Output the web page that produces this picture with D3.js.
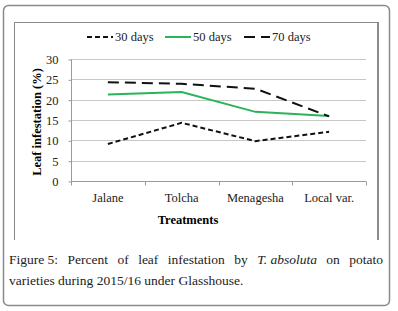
<!DOCTYPE html>
<html>
<head>
<meta charset="utf-8">
<script src="https://cdn.jsdelivr.net/npm/d3@7"></script>
<style>
  body { margin: 0; background: #fff; }
  svg { display: block; }
</style>
</head>
<body>
<svg id="chart" width="398" height="311"></svg>
<script>
const categories = ["Jalane", "Tolcha", "Menagesha", "Local var."];
const days30 = [9.1, 14.3, 9.8, 12.1];
const days50 = [21.3, 21.9, 17.0, 16.0];
const days70 = [24.3, 23.9, 22.7, 15.9];
const yTicks = [0, 5, 10, 15, 20, 25, 30];
const seriesNames = ["30 days", "50 days", "70 days"];

const svg = d3.select("#chart");
const serif = "'Liberation Serif', 'Times New Roman', serif";

// outer rounded frame
svg.append("rect")
    .attr("x", 3.5).attr("y", 5.5)
    .attr("width", 386).attr("height", 300)
    .attr("rx", 5)
    .attr("fill", "#fff")
    .attr("stroke", "#8a8a8a")
    .attr("stroke-width", 1.5);

// inner chart frame
svg.append("line").attr("x1", 14.5).attr("x2", 14.5).attr("y1", 22).attr("y2", 240)
    .attr("stroke", "#8a8a8a").attr("stroke-width", 1);
svg.append("line").attr("x1", 14).attr("x2", 378).attr("y1", 22.5).attr("y2", 22.5)
    .attr("stroke", "#8a8a8a").attr("stroke-width", 1);
svg.append("line").attr("x1", 378).attr("x2", 378).attr("y1", 22).attr("y2", 240)
    .attr("stroke", "#8a8a8a").attr("stroke-width", 2);

const x = d3.scaleBand().domain(categories).range([71, 366]);
const y = d3.scaleLinear().domain([0, 30]).range([181, 59]);

// gridlines
svg.append("g")
    .selectAll("line")
    .data(yTicks.slice(1))
    .join("line")
    .attr("x1", 71).attr("x2", 366)
    .attr("y1", d => Math.round(y(d)) + 0.5)
    .attr("y2", d => Math.round(y(d)) + 0.5)
    .attr("stroke", "#c8c8c8");

// y axis
const yAxis = svg.append("g")
    .attr("transform", "translate(71.5,0.5)")
    .call(d3.axisLeft(y).tickValues(yTicks).tickSize(3).tickPadding(10));
yAxis.select(".domain").attr("stroke", "#9a9a9a").attr("d", `M0,${y(0)}V${y(30)}`);
yAxis.selectAll(".tick line").attr("stroke", "#9a9a9a");
yAxis.selectAll("text").attr("font-family", serif).attr("font-size", 12.5).attr("fill", "#222");

// x axis
const xAxis = svg.append("g")
    .attr("transform", `translate(0,${Math.round(y(0)) + 0.5})`)
    .call(d3.axisBottom(x).tickSize(0).tickPadding(12));
xAxis.select(".domain").attr("stroke", "#9a9a9a").attr("d", "M71,0H366");
xAxis.selectAll("text").attr("font-family", serif).attr("font-size", 12.5).attr("fill", "#222");
xAxis.selectAll(".sep")
    .data(categories.map(c => x(c)).concat([366]))
    .join("line")
    .attr("class", "sep")
    .attr("x1", d => Math.round(d) + 0.5).attr("x2", d => Math.round(d) + 0.5)
    .attr("y1", 0).attr("y2", 4)
    .attr("stroke", "#9a9a9a");

// axis titles
svg.append("text")
    .attr("x", 188).attr("y", 224)
    .attr("text-anchor", "middle")
    .attr("font-family", serif).attr("font-weight", "bold").attr("font-size", 12.5)
    .text("Treatments");
svg.append("text")
    .attr("transform", "translate(41,122) rotate(-90)")
    .attr("text-anchor", "middle")
    .attr("font-family", serif).attr("font-weight", "bold").attr("font-size", 12.5)
    .text("Leaf infestation (%)");

// series
const series = [
    {name: seriesNames[0], values: days30, color: "#111", dash: "5,3"},
    {name: seriesNames[1], values: days50, color: "#2bb35a", dash: null},
    {name: seriesNames[2], values: days70, color: "#111", dash: "11,6"}
];

const line = d3.line()
    .x((d, i) => x(categories[i]) + x.bandwidth() / 2)
    .y(d => y(d));

svg.append("g")
    .selectAll("path")
    .data(series)
    .join("path")
    .attr("d", d => line(d.values))
    .attr("fill", "none")
    .attr("stroke", d => d.color)
    .attr("stroke-width", 2)
    .attr("stroke-dasharray", d => d.dash);

// legend
const legendX = [87, 165, 244];
const legend = svg.append("g")
    .selectAll("g")
    .data(series)
    .join("g")
    .attr("transform", (d, i) => `translate(${legendX[i]},37)`);
legend.append("line")
    .attr("x1", 0).attr("x2", 26)
    .attr("stroke", d => d.color)
    .attr("stroke-width", 2)
    .attr("stroke-dasharray", d => d.dash);
legend.append("text")
    .attr("x", 28).attr("y", 4)
    .attr("font-family", serif).attr("font-size", 12.5).attr("fill", "#222")
    .text(d => d.name);

// caption, first line justified word by word
const capWords = [
    {t: "Figure 5:", i: false}, {t: "Percent", i: false}, {t: "of", i: false},
    {t: "leaf", i: false}, {t: "infestation", i: false}, {t: "by", i: false},
    {t: "T. absoluta", i: true}, {t: "on", i: false}, {t: "potato", i: false}
];
const capLeft = 9, capRight = 383;
const words = svg.append("g")
    .selectAll("text")
    .data(capWords)
    .join("text")
    .attr("y", 264)
    .attr("font-family", serif).attr("font-size", 13.5).attr("fill", "#222")
    .attr("font-style", d => d.i ? "italic" : "normal")
    .text(d => d.t);
const widths = words.nodes().map(n => n.getComputedTextLength());
const gap = (capRight - capLeft - d3.sum(widths)) / (capWords.length - 1);
let cx = capLeft;
words.attr("x", (d, i) => { const p = cx; cx += widths[i] + gap; return p; });

svg.append("text")
    .attr("x", 9).attr("y", 285)
    .attr("font-family", serif).attr("font-size", 13.5).attr("fill", "#222")
    .text("varieties during 2015/16 under Glasshouse.");
</script>
</body>
</html>
